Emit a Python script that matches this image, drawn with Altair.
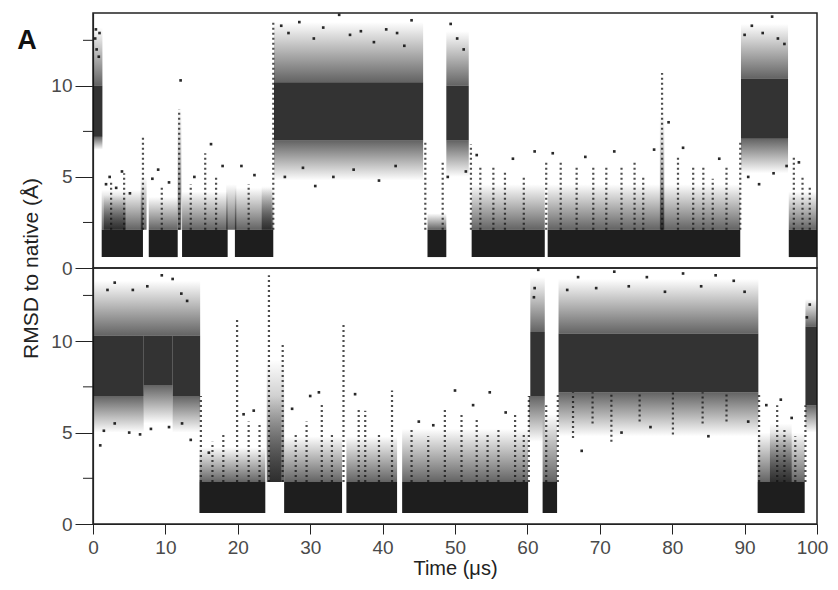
import altair as alt
import pandas as pd

# ---------------- data (time in µs, RMSD in Å) ----------------
# Each block: (t_start, t_end, RMSD_low, RMSD_high)

# ---- Top trajectory ----
top_folded = [
    (1.2, 6.9, 0.6, 2.1), (7.7, 11.7, 0.6, 2.1), (12.3, 18.6, 0.6, 2.1),
    (19.6, 24.9, 0.6, 2.1), (46.2, 48.8, 0.6, 2.1), (52.3, 62.4, 0.6, 2.1),
    (62.8, 89.4, 0.6, 2.1), (96.1, 100.0, 0.6, 2.1),
]
top_unfolded = [
    (0.0, 1.3, 7.2, 10.0), (25.0, 45.6, 7.0, 10.2), (48.8, 51.9, 7.0, 10.0),
    (89.5, 96.0, 7.1, 10.4),
]
# sparser cloud above a dense block (thins out upwards)
top_cloud_up = [
    (0.0, 1.3, 10.0, 13.2), (1.2, 6.9, 2.1, 4.3), (7.7, 11.7, 2.1, 3.9),
    (12.3, 18.6, 2.1, 4.2), (19.6, 24.9, 2.1, 4.4), (25.0, 45.6, 10.2, 13.5),
    (46.2, 48.8, 2.1, 3.0), (48.8, 51.9, 10.0, 13.0), (52.3, 62.4, 2.1, 4.6),
    (62.8, 89.4, 2.1, 4.6), (89.5, 96.0, 10.4, 13.4), (96.1, 100.0, 2.1, 4.2),
    (6.6, 7.4, 2.1, 5.0), (18.4, 19.8, 2.1, 4.6), (23.3, 24.7, 2.1, 4.5),
    (11.7, 12.2, 2.1, 8.8), (78.3, 78.9, 2.1, 8.5), (1.5, 4.5, 2.1, 4.0),
]
# sparser cloud below a dense block (thins out downwards)
top_cloud_down = [
    (0.0, 1.3, 6.5, 7.2), (25.0, 45.6, 4.8, 7.0), (48.8, 51.9, 5.0, 7.0),
    (89.5, 96.0, 5.2, 7.1),
]
# vertical runs of single frames: (t, RMSD_from, RMSD_to)
top_streaks = [
    (6.9, 2.1, 7.3), (11.9, 2.1, 8.7), (15.5, 2.1, 6.3), (24.9, 2.1, 13.5),
    (45.9, 2.1, 7.0), (48.3, 2.1, 5.8), (52.2, 2.1, 6.8), (62.6, 2.1, 5.8),
    (78.6, 2.1, 10.7), (89.4, 2.1, 7.0), (96.8, 2.1, 6.2),
    (2.5, 2.1, 4.8), (4.3, 2.1, 5.2), (9.5, 2.1, 4.5), (13.5, 2.1, 4.6),
    (17.0, 2.1, 5.0), (21.5, 2.1, 4.6), (53.5, 2.1, 5.6), (55.3, 2.1, 5.6),
    (56.9, 2.1, 5.4), (59.5, 2.1, 5.1), (64.6, 2.1, 5.9), (66.8, 2.1, 5.5),
    (69.1, 2.1, 5.6), (70.9, 2.1, 5.5), (73.0, 2.1, 5.6), (74.8, 2.1, 5.8),
    (76.0, 2.1, 5.0), (80.8, 2.1, 6.2), (82.9, 2.1, 5.6), (84.3, 2.1, 5.5),
    (85.6, 2.1, 4.9), (87.5, 2.1, 5.6), (98.0, 2.1, 5.0), (99.0, 2.1, 4.5),
]
# isolated frames: (t, RMSD)
top_dots = [
    (0.3, 12.6), (0.5, 12.0), (0.8, 11.6), (0.4, 13.1), (0.9, 12.9),
    (1.8, 4.6), (2.3, 5.0), (3.2, 4.4), (4.0, 5.3), (5.1, 4.1), (8.2, 4.9),
    (9.0, 5.4), (10.5, 4.7), (12.1, 10.3), (14.0, 5.0), (16.3, 6.8),
    (17.9, 5.6), (20.5, 5.6), (22.3, 5.1), (26.0, 13.3), (27.0, 12.9),
    (28.5, 13.5), (30.5, 12.6), (31.8, 13.2), (34.0, 13.9), (35.5, 12.8),
    (37.0, 13.0), (38.8, 12.4), (40.5, 13.1), (42.0, 12.9), (44.0, 13.6),
    (43.0, 12.2), (26.5, 5.0), (29.0, 5.5), (30.7, 4.5), (33.2, 5.0),
    (36.0, 5.4), (39.5, 4.8), (41.8, 5.6), (49.4, 13.4), (50.3, 12.6),
    (51.2, 12.0), (49.0, 5.0), (51.5, 5.3), (53.0, 6.2), (58.0, 6.0),
    (61.0, 6.4), (63.5, 6.3), (68.0, 6.1), (72.0, 6.4), (77.5, 6.5),
    (79.5, 8.0), (81.5, 6.6), (86.5, 6.0), (90.0, 12.8), (91.0, 13.3),
    (92.5, 12.9), (93.8, 13.8), (94.6, 12.6), (95.5, 12.3), (90.5, 5.0),
    (92.0, 4.6), (94.0, 5.2), (95.8, 5.6), (97.5, 5.8),
]

# ---- Bottom trajectory ----
bot_folded = [
    (14.7, 23.8, 0.6, 2.3), (26.4, 34.4, 0.6, 2.3), (35.0, 42.0, 0.6, 2.3),
    (42.7, 60.1, 0.6, 2.3), (62.1, 64.1, 0.6, 2.3), (91.8, 98.3, 0.6, 2.3),
]
bot_unfolded = [
    (0.0, 7.0, 7.0, 10.3), (7.0, 11.0, 7.6, 10.3), (11.0, 14.8, 7.0, 10.3),
    (60.4, 62.4, 7.0, 10.5), (64.3, 91.9, 7.2, 10.4), (98.4, 100.0, 6.5, 10.8),
]
bot_cloud_up = [
    (0.0, 14.8, 10.3, 13.3), (14.7, 23.8, 2.3, 4.2), (26.4, 34.4, 2.3, 4.8),
    (35.0, 42.0, 2.3, 4.8), (42.7, 60.1, 2.3, 5.2), (60.4, 62.4, 10.5, 13.5),
    (62.1, 64.1, 2.3, 6.0), (64.3, 91.9, 10.4, 13.4), (91.8, 98.3, 2.3, 5.0),
    (98.4, 100.0, 10.8, 12.3), (24.0, 26.4, 2.3, 9.0), (24.4, 26.0, 2.3, 7.0),
    (93.5, 96.5, 2.3, 5.5),
]
bot_cloud_down = [
    (0.0, 7.0, 5.0, 7.0), (7.0, 11.0, 5.5, 7.6), (11.0, 14.8, 5.0, 7.0),
    (60.2, 62.4, 4.5, 7.0), (64.3, 91.9, 4.8, 7.2), (98.4, 100.0, 5.0, 6.5),
]
bot_streaks = [
    (14.9, 2.3, 7.0), (19.9, 2.3, 11.3), (24.3, 2.3, 13.6), (26.2, 2.3, 9.9),
    (34.6, 2.3, 11.0), (41.3, 2.3, 7.3), (60.2, 2.3, 7.0), (62.6, 2.3, 6.5),
    (64.2, 2.3, 7.2), (92.0, 2.3, 7.2), (94.5, 2.3, 6.5), (98.4, 2.3, 6.5),
    (16.5, 2.3, 4.5), (18.0, 2.3, 5.0), (21.5, 2.3, 5.6), (23.0, 2.3, 5.5),
    (28.0, 2.3, 5.0), (29.5, 2.3, 5.6), (31.6, 2.3, 6.6), (33.0, 2.3, 5.0),
    (36.7, 2.3, 6.3), (37.6, 2.3, 6.2), (39.5, 2.3, 5.0), (44.0, 2.3, 5.3),
    (46.3, 2.3, 4.8), (48.6, 2.3, 6.3), (50.9, 2.3, 6.0), (53.0, 2.3, 5.8),
    (54.5, 2.3, 5.0), (56.0, 2.3, 5.3), (58.3, 2.3, 6.0), (59.5, 2.3, 5.0),
    (95.5, 2.3, 5.2), (97.0, 2.3, 4.8),
    (66.3, 4.7, 7.2), (71.6, 4.5, 7.2), (80.1, 4.9, 7.2), (84.2, 5.5, 7.2),
    (69.0, 5.5, 7.2), (75.5, 5.6, 7.2), (87.5, 5.6, 7.2),
]
bot_dots = [
    (1.0, 4.3), (1.5, 5.1), (3.0, 5.5), (5.0, 5.0), (6.5, 4.9), (8.0, 5.2),
    (10.5, 5.3), (12.3, 5.5), (13.5, 4.6), (2.0, 12.8), (3.0, 13.2),
    (5.5, 12.8), (7.5, 13.0), (9.5, 13.6), (11.0, 13.4), (12.2, 12.6),
    (13.0, 12.2), (16.0, 3.9), (20.8, 6.0), (22.2, 6.2), (27.5, 6.3),
    (30.0, 7.0), (31.2, 7.2), (36.2, 7.1), (45.0, 5.6), (47.0, 5.4),
    (50.0, 7.3), (52.5, 6.5), (54.8, 7.2), (57.0, 6.1), (61.0, 12.9),
    (61.5, 13.9), (60.9, 12.4), (65.5, 12.8), (67.0, 13.5), (69.5, 12.9),
    (72.0, 13.8), (74.0, 13.0), (76.5, 13.5), (79.0, 12.7), (81.5, 13.7),
    (84.0, 13.0), (86.0, 13.6), (88.5, 13.3), (90.0, 12.7), (67.5, 4.0),
    (73.0, 5.0), (77.0, 5.3), (85.0, 4.8), (90.5, 5.6), (93.0, 6.5),
    (95.0, 6.8), (96.5, 5.8), (99.0, 12.0), (98.6, 11.3),
]

x_ticks = [0, 10, 20, 30, 40, 50, 60, 70, 80, 90, 100]
y_ticks = [0, 5, 10]
y_minor = [2.5, 7.5, 12.5]

FONT = "Liberation Sans"
INK = "#121212"


def rect_df(rows):
    return pd.DataFrame(rows, columns=["t0", "t1", "lo", "hi"])


def fade(up):
    # gradient inside each block: dense next to the core, fading outward
    dense = alt.GradientStop(color="rgba(18,18,18,0.66)", offset=0)
    clear = alt.GradientStop(color="rgba(18,18,18,0.0)", offset=1)
    if up:
        return alt.LinearGradient(gradient="linear", stops=[dense, clear],
                                  x1=0, x2=0, y1=1, y2=0)
    return alt.LinearGradient(gradient="linear", stops=[dense, clear],
                              x1=0, x2=0, y1=0, y2=1)


def panel(folded, unfolded, cloud_up, cloud_down, streaks, dots, height, bottom):
    xs = alt.Scale(domain=[0, 100], nice=False, zero=False)
    ys = alt.Scale(domain=[0, 14], nice=False, zero=True)
    common_y = dict(values=y_ticks, tickSize=18, labelPadding=3, grid=False,
                    labelFontSize=19, labelColor="#4a4a4a", tickColor="#222",
                    domainColor="#222", labelFont=FONT, labelFlush=False)
    if bottom:
        xaxis = alt.Axis(values=x_ticks, title="Time (μs)", tickSize=10,
                         labelPadding=4, titlePadding=1, grid=False,
                         labelFontSize=19, titleFontSize=20, labelColor="#4a4a4a",
                         titleColor="#222", titleFontWeight="normal",
                         tickColor="#222", domainColor="#222", labelFont=FONT,
                         titleFont=FONT, labelFlush=False,
                         labelOffset={"condition": {"test": "datum.value == 100",
                                                    "value": -5},
                                      "value": 0})
        yaxis = alt.Axis(title="RMSD to native (Å)", titlePadding=9,
                         titleFontSize=21, titleColor="#222",
                         titleFontWeight="normal", titleFont=FONT, titleY=0,
                         **common_y)
    else:
        xaxis = None
        yaxis = alt.Axis(title=None, **common_y)

    def block_layer(rows, **mark):
        return alt.Chart(rect_df(rows)).mark_rect(**mark).encode(
            x=alt.X("t0:Q", scale=xs, axis=xaxis),
            x2="t1",
            y=alt.Y("lo:Q", scale=ys, axis=yaxis),
            y2="hi",
        )

    up_l = block_layer(cloud_up, color=fade(True))
    down_l = block_layer(cloud_down, color=fade(False))
    unf_l = block_layer(unfolded, color=INK, opacity=0.86)
    fold_l = block_layer(folded, color=INK, opacity=0.95)

    streak_l = alt.Chart(pd.DataFrame(streaks, columns=["t", "lo", "hi"])).mark_rule(
        color=INK, strokeWidth=2.2, strokeDash=[2, 3], opacity=0.75
    ).encode(
        x=alt.X("t:Q", scale=xs, axis=xaxis),
        y=alt.Y("lo:Q", scale=ys, axis=yaxis),
        y2="hi",
    )
    dot_l = alt.Chart(pd.DataFrame(dots, columns=["t", "v"])).mark_square(
        color=INK, size=7, opacity=0.9
    ).encode(
        x=alt.X("t:Q", scale=xs, axis=xaxis),
        y=alt.Y("v:Q", scale=ys, axis=yaxis),
    )
    minor_l = alt.Chart(pd.DataFrame({"v": y_minor})).mark_rule(
        color="#222", strokeWidth=1
    ).encode(
        x=alt.value(-10), x2=alt.value(0),
        y=alt.Y("v:Q", scale=ys, axis=yaxis),
    )
    layers = [up_l, down_l, unf_l, fold_l, streak_l, dot_l, minor_l]
    if not bottom:
        lab = alt.Chart(pd.DataFrame({"s": ["A"]})).mark_text(
            font=FONT, fontSize=27, fontWeight="bold", color="#111",
            align="center", baseline="middle"
        ).encode(x=alt.value(-66), y=alt.value(28), text="s:N")
        layers.append(lab)
    return alt.layer(*layers).properties(width=724, height=height)


top = panel(top_folded, top_unfolded, top_cloud_up, top_cloud_down,
            top_streaks, top_dots, 255, False)
bot = panel(bot_folded, bot_unfolded, bot_cloud_up, bot_cloud_down,
            bot_streaks, bot_dots, 256, True)

chart = alt.vconcat(top, bot, spacing=0, bounds="flush").properties(
    padding={"left": 8, "top": 4, "right": 0, "bottom": 0}
).configure_view(stroke="#222", strokeWidth=1.5).configure_axis(domainWidth=1.2)

chart.save("out.html", embed_options={"renderer": "svg", "actions": False})
